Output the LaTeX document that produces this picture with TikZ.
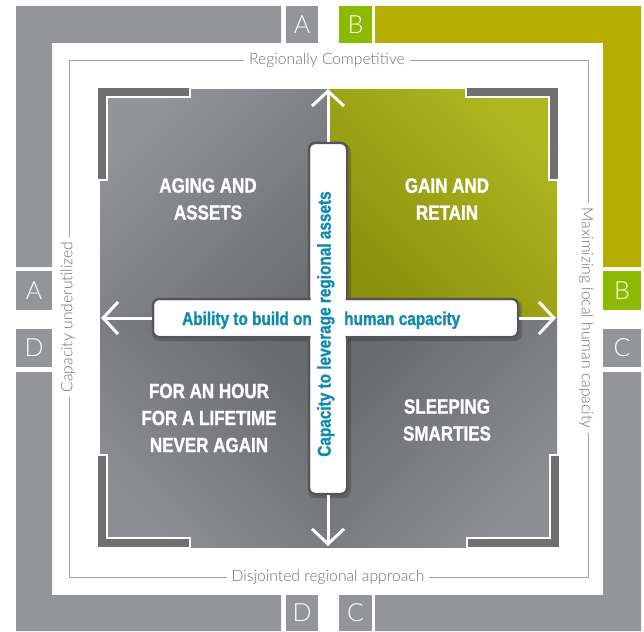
\documentclass[tikz,border=0pt]{standalone}
\usepackage{fontspec}
\setmainfont{Liberation Sans}
\newfontfamily\condfont[FakeStretch=0.83, BoldFeatures={FakeBold=1.2}]{Liberation Sans}
\newfontfamily\lightfont{Lato Light}
\usetikzlibrary{arrows.meta}
\definecolor{bandgray}{RGB}{147,149,152}
\definecolor{bandolive}{RGB}{181,173,0}
\definecolor{boxgreen}{RGB}{140,186,0}
\definecolor{bracketgray}{RGB}{112,112,112}
\definecolor{labelgray}{RGB}{110,111,114}
\definecolor{framegray}{RGB}{160,160,160}
\definecolor{barblue}{RGB}{16,138,176}
\definecolor{barborder}{RGB}{85,86,88}
\definecolor{tlLight}{RGB}{146,148,151}
\definecolor{tlDark}{RGB}{110,112,115}
\definecolor{trLight}{RGB}{174,184,32}
\definecolor{trDark}{RGB}{138,142,12}
\definecolor{bLight}{RGB}{142,143,146}
\definecolor{bDark}{RGB}{104,105,108}
\tikzset{
  letter/.style={text=white, font=\lightfont\fontsize{25}{25}\selectfont, inner sep=0pt},
  axislabel/.style={fill=white, text=labelgray, font=\lightfont\fontsize{15.7}{15.7}\selectfont, inner xsep=5pt, inner ysep=2pt},
  quadtext/.style={text=white, font=\condfont\bfseries\fontsize{20.5}{27}\selectfont, align=center, inner sep=0pt},
  bartext/.style={text=barblue, font=\condfont\bfseries\fontsize{18.5}{20}\selectfont, inner sep=0pt},
  crossbar/.style={fill=white, draw=barborder, line width=2.5pt, rounded corners=6pt, inner sep=0pt},
  barshadow/.style={fill=black, opacity=0.18, rounded corners=7pt},
  bracketshape/.style={fill=bracketgray, draw=white, line width=1.5pt},
  arrowline/.style={white, line width=3pt, -{Straight Barb[length=15pt,width=32pt]}}
}
\begin{document}
\begin{tikzpicture}[x=1pt, y=-1pt]
\useasboundingbox (0,0) rectangle (644,631);
% outer band
\fill[bandgray] (16,6) -- (281,6) -- (281,43) -- (52,43) -- (52,267) -- (16,267) -- cycle;
\fill[bandolive] (375,6) -- (641,6) -- (641,267) -- (603,267) -- (603,43) -- (375,43) -- cycle;
\fill[bandgray] (641,372) -- (641,631) -- (375,631) -- (375,595) -- (603,595) -- (603,372) -- cycle;
\fill[bandgray] (16,372) -- (52,372) -- (52,595) -- (281,595) -- (281,631) -- (16,631) -- cycle;
\fill[bandgray] (286,6) rectangle (318,43);
\fill[boxgreen] (339,6) rectangle (372,43);
\fill[bandgray] (16,271) rectangle (52,310);
\fill[bandgray] (16,329) rectangle (52,367);
\fill[boxgreen] (603,271) rectangle (641,310);
\fill[bandgray] (603,329) rectangle (641,367);
\fill[bandgray] (286,595) rectangle (318,631);
\fill[bandgray] (339,595) rectangle (372,631);
\node[letter] (lA1) at (302,24.5) {A};
\node[letter] (lB1) at (355.5,24.5) {B};
\node[letter] (lA2) at (34,290.5) {A};
\node[letter] (lD2) at (34,348) {D};
\node[letter] (lB2) at (622,290.5) {B};
\node[letter] (lC2) at (622,348) {C};
\node[letter] (lD3) at (302,613) {D};
\node[letter] (lC3) at (355.5,613) {C};
% thin frame
\draw[framegray, line width=0.8pt] (69,60) rectangle (588,577);
\node[axislabel] (labT) at (327,60) {Regionally Competitive};
\node[axislabel] (labB) at (328,577) {Disjointed regional approach};
\node[axislabel, rotate=90] (labL) at (68,317) {Capacity underutilized};
\node[axislabel, rotate=-90] (labR) at (586,318) {Maximizing local human capacity};
% quadrants
\shade[top color=tlLight, bottom color=tlDark, shading angle=45] (100,90) rectangle (328,318);
\shade[top color=trLight, bottom color=trDark, shading angle=-45] (328,90) rectangle (557,318);
\shade[top color=bLight, bottom color=bDark, shading angle=135] (100,318) rectangle (328,547);
\shade[top color=bLight, bottom color=bDark, shading angle=-135] (328,318) rectangle (557,547);
% brackets
\draw[bracketshape] (97,87) -- (190,87) -- (190,97) -- (107,97) -- (107,180) -- (97,180) -- cycle;
\draw[bracketshape] (559,87) -- (466,87) -- (466,97) -- (549,97) -- (549,180) -- (559,180) -- cycle;
\draw[bracketshape] (97,548) -- (190,548) -- (190,538) -- (107,538) -- (107,455) -- (97,455) -- cycle;
\draw[bracketshape] (560,548) -- (467,548) -- (467,538) -- (550,538) -- (550,455) -- (560,455) -- cycle;
% quadrant texts
\node[quadtext] (qTL) at (208,199) {AGING AND\\ASSETS};
\node[quadtext] (qTR) at (447,199) {GAIN AND\\RETAIN};
\node[quadtext] (qBL) at (209,418) {FOR AN HOUR\\FOR A LIFETIME\\NEVER AGAIN};
\node[quadtext] (qBR) at (447,420) {SLEEPING\\SMARTIES};
% arrows
\coordinate (tipN) at (328,89);
\coordinate (tipS) at (328,546);
\coordinate (tipW) at (101,318);
\coordinate (tipE) at (556,318);
% cross bars
\fill[barshadow] (308,144) rectangle (351,498);
\fill[barshadow] (152,300) rectangle (522,341);
\node[crossbar, minimum width=38pt, minimum height=351pt] (vb) at (328,318.5) {};
\node[crossbar, minimum width=365pt, minimum height=38pt] (hb) at (335.5,318) {};
\fill[white, rounded corners=5pt] (310.5,145) rectangle (345.5,492);
\fill[white, rounded corners=5pt] (154.5,300.5) rectangle (516.5,335.5);
\draw[arrowline] (vb.north) -- (tipN);
\draw[arrowline] (vb.south) -- (tipS);
\draw[arrowline] (hb.west) -- (tipW);
\draw[arrowline] (hb.east) -- (tipE);
% bar texts
\node[bartext, rotate=90, anchor=mid] (vtext) at (328,324) {Capacity to leverage regional assets};
\node[bartext, anchor=base east] (htext1) at (312,325) {Ability to build on};
\node[bartext, anchor=base west] (htext2) at (344,325) {human capacity};
\end{tikzpicture}
\end{document}
